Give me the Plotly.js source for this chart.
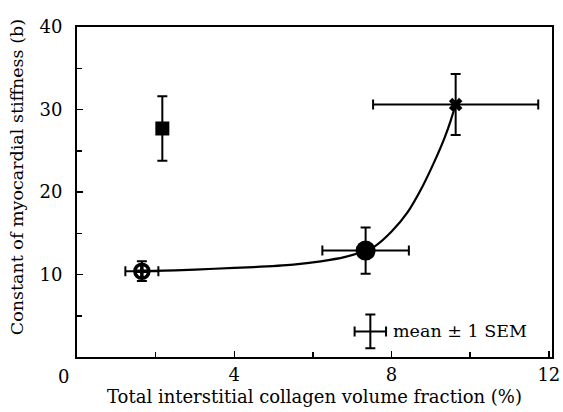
<!DOCTYPE html>
<html><head><meta charset="utf-8">
<script src="https://cdn.plot.ly/plotly-3.0.1.min.js"></script>
<style>html,body{margin:0;padding:0;background:#fff}</style>
</head><body>
<div id="chart" style="width:563px;height:412px"></div>
<script>
// Group means (x = collagen volume fraction %, y = stiffness constant b)
const groupNames = ["Group A", "Group B", "Group C", "Group D"];
const groupX     = [1.65, 2.17, 7.34, 9.63];
const groupY     = [10.4, 27.7, 12.9, 30.6];
const groupXErr  = [0.42, 0.0, 1.1, 2.1];
const groupYErr  = [1.2, 3.9, 2.8, 3.7];
const groupSymbols = ["circle-cross-open", "square", "circle", "x"];
const groupSizes   = [14, 14, 20, 12];

// Fitted curve
const curveX = [1.65, 2.5, 3.5, 4.5, 5.5, 6.2, 6.8, 7.34, 7.6, 8.0, 8.4, 8.8, 9.1, 9.35, 9.5, 9.63];
const curveY = [10.4, 10.5, 10.7, 10.9, 11.2, 11.6, 12.1, 12.9, 13.5, 15.2, 17.5, 20.8, 23.8, 26.6, 28.6, 30.6];

// Legend key
const keyX = [7.46], keyY = [3.1], keyXErr = [0.4], keyYErr = [2.05];
const keyLabel = "mean ± 1 SEM";

const xTickVals = [4, 8, 12];
const xMinorVals = [2, 6, 10];
const yTickVals = [10, 20, 30, 40];

const xTitle = "Total interstitial collagen volume fraction (%)";
const yTitle = "Constant of myocardial stiffness (b)";

const FONT = "DejaVu Serif, Liberation Serif, serif";

const traces = [{
  x: curveX, y: curveY, mode: "lines", type: "scatter",
  line: {color: "#000", width: 2.2, shape: "spline", smoothing: 0.6},
  hoverinfo: "skip", showlegend: false
}];
for (let i = 0; i < groupX.length; i++) {
  traces.push({
    x: [groupX[i]], y: [groupY[i]], name: groupNames[i], type: "scatter", mode: "markers",
    marker: {symbol: groupSymbols[i], size: groupSizes[i], color: "#000",
             line: {color: "#000", width: groupSymbols[i].endsWith("open") ? 3.5 : 0}},
    error_x: {type: "data", array: [groupXErr[i]], visible: groupXErr[i] > 0, color: "#000", thickness: 2, width: 5},
    error_y: {type: "data", array: [groupYErr[i]], visible: true, color: "#000", thickness: 2, width: 5},
    showlegend: false
  });
}
traces.push({
  x: keyX, y: keyY, type: "scatter", mode: "markers",
  marker: {size: 1, color: "#000"},
  error_x: {type: "data", array: keyXErr, color: "#000", thickness: 2, width: 5},
  error_y: {type: "data", array: keyYErr, color: "#000", thickness: 2, width: 5},
  showlegend: false, hoverinfo: "skip"
});

const layout = {
  width: 563, height: 412,
  margin: {l: 77, r: 11, t: 27, b: 55},
  paper_bgcolor: "#fff", plot_bgcolor: "#fff",
  font: {family: FONT, color: "#000", size: 17},
  showlegend: false,
  xaxis: {
    range: [0, 12.08], tickvals: xTickVals, ticktext: xTickVals.map(String),
    ticks: "inside", ticklen: 6, tickwidth: 1.5, tickcolor: "#000",
    minor: {tickvals: xMinorVals, ticks: "inside", ticklen: 5, tickwidth: 1.5, tickcolor: "#000"},
    showline: true, linecolor: "#000", linewidth: 2, mirror: true,
    showgrid: false, zeroline: false,
    tickfont: {family: FONT, size: 18, color: "#000"},
    title: {text: xTitle, font: {family: FONT, size: 18, color: "#000"}, standoff: 7}
  },
  yaxis: {
    range: [0, 40], tickvals: yTickVals, ticktext: yTickVals.map(String),
    ticks: "inside", ticklen: 6, tickwidth: 1.5, tickcolor: "#000",
    minor: {dtick: 5, tick0: 0, ticks: "inside", ticklen: 5, tickwidth: 1.5, tickcolor: "#000"},
    showline: true, linecolor: "#000", linewidth: 2, mirror: true,
    showgrid: false, zeroline: false,
    tickfont: {family: FONT, size: 18, color: "#000"},
    ticklabelstandoff: 9
  },
  annotations: [
    {x: 0, y: 0.545, xref: "paper", yref: "paper", text: yTitle, showarrow: false, textangle: -90,
     xanchor: "center", yanchor: "middle", xshift: -60, font: {family: FONT, size: 17.5, color: "#000"}},
    {x: keyX[0] + 0.52, y: keyY[0], xref: "x", yref: "y", text: keyLabel, showarrow: false,
     xanchor: "left", yanchor: "middle", font: {family: FONT, size: 17.5, color: "#000"}},
    {x: 0, y: 0, xref: "x", yref: "y", text: "0", showarrow: false,
     xanchor: "center", yanchor: "top", xshift: -14, yshift: -7, font: {family: FONT, size: 18, color: "#000"}}
  ]
};
Plotly.newPlot("chart", traces, layout, {displayModeBar: false, staticPlot: true});
</script>
</body></html>
